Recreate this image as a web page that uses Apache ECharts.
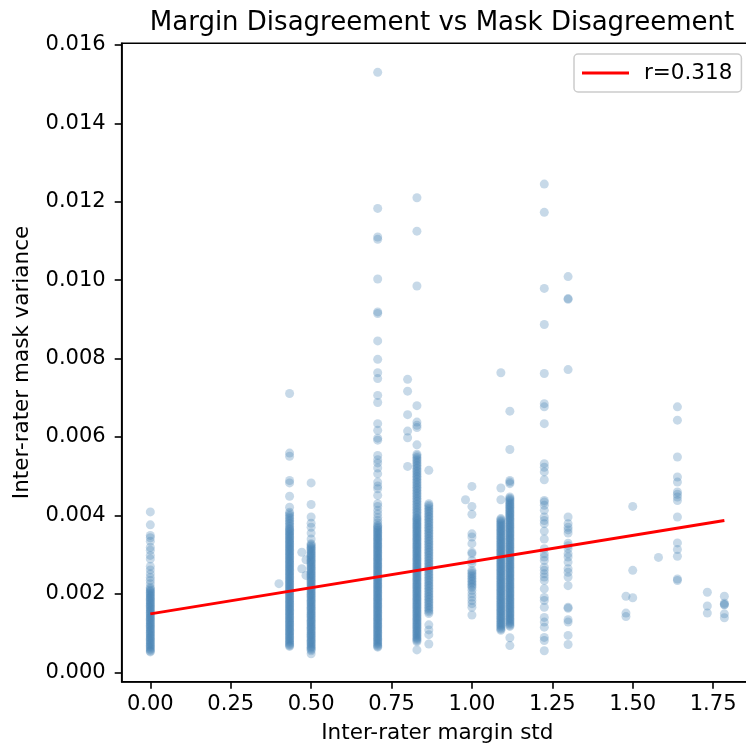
<!DOCTYPE html>
<html>
<head>
<meta charset="utf-8">
<script src="https://cdn.jsdelivr.net/npm/echarts@6/dist/echarts.min.js"></script>
<style>
  html, body { margin: 0; padding: 0; background: #fff; }
  #chart { width: 746px; height: 748px; }
</style>
</head>
<body>
<div id="chart"></div>
<script>
// x positions of the point columns (inter-rater margin std)
var colX = [0, 0.40, 0.433, 0.471, 0.484, 0.5, 0.707, 0.80, 0.829, 0.866, 0.98, 1.0,
            1.09, 1.118, 1.225, 1.299, 1.479, 1.5, 1.58, 1.639, 1.732, 1.785];

// mask variance values for each column
var y000 = [0.00409, 0.00376, 0.00349, 0.00343, 0.00334, 0.00319, 0.00311, 0.00298, 0.00289, 0.00270,
            0.00261, 0.00251, 0.00242, 0.00234, 0.00226, 0.00217,
            0.00213, 0.00210, 0.00207, 0.00204, 0.00201, 0.00198, 0.00195, 0.00192, 0.00189, 0.00186,
            0.00183, 0.00180, 0.00177, 0.00174, 0.00171, 0.00168, 0.00165, 0.00162, 0.00159, 0.00156,
            0.00153, 0.00150, 0.00147, 0.00144, 0.00141, 0.00138, 0.00135, 0.00132, 0.00129, 0.00126,
            0.00123, 0.00120, 0.00117, 0.00114, 0.00111, 0.00108, 0.00105, 0.00102, 0.00099, 0.00096,
            0.00093, 0.00090, 0.00087, 0.00084, 0.00081, 0.00078, 0.00075, 0.00072, 0.00069, 0.00066,
            0.00063, 0.00060, 0.00057, 0.00054, 0.00052];
var y040 = [0.00226];
var y043 = [0.00711, 0.00559, 0.00551, 0.00489, 0.00483, 0.00449, 0.00421,
            0.00408, 0.00404, 0.00400, 0.00396, 0.00392, 0.00388, 0.00384, 0.00380, 0.00376, 0.00372,
            0.00368, 0.00365, 0.00362, 0.00359, 0.00356, 0.00353, 0.00350, 0.00347, 0.00344, 0.00341,
            0.00338, 0.00335, 0.00332, 0.00329, 0.00326, 0.00323, 0.00320, 0.00317, 0.00314, 0.00311,
            0.00308, 0.00305, 0.00302, 0.00299, 0.00296, 0.00293, 0.00290, 0.00287, 0.00284, 0.00281,
            0.00278, 0.00275, 0.00272, 0.00269, 0.00266, 0.00263, 0.00260, 0.00257, 0.00254, 0.00251,
            0.00248, 0.00245, 0.00242, 0.00239, 0.00236, 0.00233, 0.00230, 0.00227, 0.00224, 0.00221,
            0.00218, 0.00215, 0.00212, 0.00209, 0.00206, 0.00203, 0.00200, 0.00197, 0.00194, 0.00191,
            0.00188, 0.00185, 0.00182, 0.00179, 0.00176, 0.00173, 0.00170, 0.00167, 0.00164, 0.00161,
            0.00158, 0.00155, 0.00152, 0.00149, 0.00146, 0.00143, 0.00140, 0.00137, 0.00134, 0.00131,
            0.00128, 0.00125, 0.00122, 0.00119, 0.00116, 0.00113, 0.00110, 0.00107, 0.00104, 0.00101,
            0.00098, 0.00095, 0.00092, 0.00089, 0.00086, 0.00083, 0.00080, 0.00077, 0.00074, 0.00071,
            0.00068, 0.00066];
var y047 = [0.00306, 0.00264];
var y048 = [0.00287, 0.00247];
var y050 = [0.00483, 0.00428, 0.00396, 0.00380, 0.00370, 0.00355, 0.00340,
            0.00328, 0.00325, 0.00322, 0.00319, 0.00316, 0.00313, 0.00310, 0.00307, 0.00304, 0.00301,
            0.00298, 0.00295, 0.00292, 0.00289, 0.00286, 0.00283, 0.00280, 0.00277, 0.00274, 0.00271,
            0.00268, 0.00265, 0.00262, 0.00259, 0.00256, 0.00253, 0.00250, 0.00247, 0.00244, 0.00241,
            0.00238, 0.00235, 0.00232, 0.00229, 0.00226, 0.00223, 0.00220, 0.00217, 0.00214, 0.00211,
            0.00208, 0.00205, 0.00202, 0.00199, 0.00196, 0.00193, 0.00190, 0.00187, 0.00184, 0.00181,
            0.00178, 0.00175, 0.00172, 0.00169, 0.00166, 0.00163, 0.00160, 0.00157, 0.00154, 0.00151,
            0.00148, 0.00145, 0.00142, 0.00139, 0.00136, 0.00133, 0.00130, 0.00127, 0.00124, 0.00121,
            0.00118, 0.00115, 0.00112, 0.00109, 0.00106, 0.00103, 0.00100, 0.00097, 0.00094, 0.00091,
            0.00088, 0.00085, 0.00082, 0.00079, 0.00076, 0.00073, 0.00070, 0.00067, 0.00064, 0.00061,
            0.00058, 0.00055, 0.00047];
var y071 = [0.01530, 0.01183, 0.01110, 0.01104, 0.01003, 0.00919, 0.00915, 0.00845, 0.00798, 0.00764,
            0.00749, 0.00706, 0.00688, 0.00634, 0.00617, 0.00597, 0.00592, 0.00553, 0.00542, 0.00534,
            0.00521, 0.00506, 0.00485, 0.00475, 0.00468, 0.00451, 0.00430, 0.00423, 0.00413, 0.00404,
            0.00395, 0.00387, 0.00381,
            0.00375, 0.00372, 0.00369, 0.00366, 0.00363, 0.00360, 0.00357, 0.00354, 0.00351, 0.00348,
            0.00345, 0.00342, 0.00339, 0.00336, 0.00333, 0.00330, 0.00327, 0.00324, 0.00321, 0.00318,
            0.00315, 0.00312, 0.00309, 0.00306, 0.00303, 0.00300, 0.00297, 0.00294, 0.00291, 0.00288,
            0.00285, 0.00282, 0.00279, 0.00276, 0.00273, 0.00270, 0.00267, 0.00264, 0.00261, 0.00258,
            0.00255, 0.00252, 0.00249, 0.00246, 0.00243, 0.00240, 0.00237, 0.00234, 0.00231, 0.00228,
            0.00225, 0.00222, 0.00219, 0.00216, 0.00213, 0.00210, 0.00207, 0.00204, 0.00201, 0.00198,
            0.00195, 0.00192, 0.00189, 0.00186, 0.00183, 0.00180, 0.00177, 0.00174, 0.00171, 0.00168,
            0.00165, 0.00162, 0.00159, 0.00156, 0.00153, 0.00150, 0.00147, 0.00144, 0.00141, 0.00138,
            0.00135, 0.00132, 0.00129, 0.00126, 0.00123, 0.00120, 0.00117, 0.00114, 0.00111, 0.00108,
            0.00105, 0.00102, 0.00099, 0.00096, 0.00093, 0.00090, 0.00087, 0.00084, 0.00081, 0.00078,
            0.00075, 0.00072, 0.00069, 0.00066, 0.00064];
var y080 = [0.00747, 0.00717, 0.00657, 0.00615, 0.00598, 0.00525];
var y083 = [0.01210, 0.01125, 0.00985, 0.00680, 0.00638, 0.00630, 0.00624, 0.00580,
            0.00556, 0.00552, 0.00548, 0.00544, 0.00540, 0.00536, 0.00532, 0.00528, 0.00524, 0.00520,
            0.00516, 0.00512, 0.00508, 0.00504, 0.00500, 0.00496, 0.00492, 0.00488, 0.00484, 0.00480,
            0.00476, 0.00472, 0.00468, 0.00464, 0.00460, 0.00456, 0.00452, 0.00448, 0.00444, 0.00440,
            0.00436, 0.00432, 0.00428, 0.00424, 0.00420, 0.00416, 0.00412, 0.00408, 0.00404, 0.00400,
            0.00396, 0.00393, 0.00390, 0.00387, 0.00384, 0.00381, 0.00378, 0.00375, 0.00372, 0.00369,
            0.00366, 0.00363, 0.00360, 0.00357, 0.00354, 0.00351, 0.00348, 0.00345, 0.00342, 0.00339,
            0.00336, 0.00333, 0.00330, 0.00327, 0.00324, 0.00321, 0.00318, 0.00315, 0.00312, 0.00309,
            0.00306, 0.00303, 0.00300, 0.00297, 0.00294, 0.00291, 0.00288, 0.00285, 0.00282, 0.00279,
            0.00276, 0.00273, 0.00270, 0.00267, 0.00264, 0.00261, 0.00258, 0.00255, 0.00252, 0.00249,
            0.00246, 0.00243, 0.00240, 0.00237, 0.00234, 0.00231, 0.00228, 0.00225, 0.00222, 0.00219,
            0.00216, 0.00213, 0.00210, 0.00207, 0.00204, 0.00201, 0.00198, 0.00195, 0.00192, 0.00189,
            0.00186, 0.00183, 0.00180, 0.00177, 0.00174, 0.00171, 0.00168, 0.00165, 0.00162, 0.00159,
            0.00156, 0.00153, 0.00150, 0.00147, 0.00144, 0.00141, 0.00138, 0.00135, 0.00132, 0.00129,
            0.00126, 0.00123, 0.00120, 0.00117, 0.00114, 0.00111, 0.00108, 0.00105, 0.00102, 0.00099,
            0.00096, 0.00093, 0.00090, 0.00087, 0.00084, 0.00081, 0.00078, 0.00057];
var y087 = [0.00515,
            0.00430, 0.00426, 0.00422, 0.00418, 0.00414, 0.00410, 0.00406, 0.00402, 0.00398, 0.00394,
            0.00390, 0.00386, 0.00382, 0.00378, 0.00374, 0.00370, 0.00366, 0.00362, 0.00358, 0.00354,
            0.00350, 0.00346, 0.00342, 0.00338, 0.00334, 0.00330, 0.00326, 0.00322, 0.00318, 0.00314,
            0.00310, 0.00306, 0.00302, 0.00298, 0.00294, 0.00290, 0.00286, 0.00282, 0.00278, 0.00274,
            0.00270, 0.00266, 0.00262, 0.00258, 0.00254, 0.00250, 0.00246, 0.00242, 0.00238, 0.00234,
            0.00230, 0.00226, 0.00222, 0.00218, 0.00214, 0.00210, 0.00206, 0.00202, 0.00198, 0.00194,
            0.00190, 0.00186, 0.00182, 0.00178, 0.00174, 0.00170, 0.00166, 0.00162, 0.00158, 0.00154,
            0.00150, 0.00121, 0.00108, 0.00096, 0.00072];
var y098 = [0.00440];
var y100 = [0.00474, 0.00423, 0.00403, 0.00353, 0.00345, 0.00328, 0.00306, 0.00302, 0.00285, 0.00277,
            0.00260, 0.00256, 0.00252, 0.00248, 0.00244, 0.00240, 0.00236, 0.00232, 0.00228, 0.00224,
            0.00220, 0.00216, 0.00209, 0.00200, 0.00192, 0.00183, 0.00175, 0.00166, 0.00146];
var y109 = [0.00764, 0.00470, 0.00440,
            0.00392, 0.00389, 0.00386, 0.00383, 0.00380, 0.00377, 0.00374, 0.00371, 0.00368, 0.00365,
            0.00362, 0.00359, 0.00356, 0.00353, 0.00350, 0.00347, 0.00344, 0.00341, 0.00338, 0.00335,
            0.00332, 0.00329, 0.00326, 0.00323, 0.00320, 0.00317, 0.00314, 0.00311, 0.00308, 0.00305,
            0.00302, 0.00299, 0.00296, 0.00293, 0.00290, 0.00287, 0.00284, 0.00281, 0.00278, 0.00275,
            0.00272, 0.00269, 0.00266, 0.00263, 0.00260, 0.00257, 0.00254, 0.00251, 0.00248, 0.00245,
            0.00242, 0.00239, 0.00236, 0.00233, 0.00230, 0.00227, 0.00224, 0.00221, 0.00218, 0.00215,
            0.00212, 0.00209, 0.00206, 0.00203, 0.00200, 0.00197, 0.00194, 0.00191, 0.00188, 0.00185,
            0.00182, 0.00179, 0.00176, 0.00173, 0.00170, 0.00167, 0.00164, 0.00161, 0.00158, 0.00155,
            0.00152, 0.00149, 0.00146, 0.00143, 0.00140, 0.00137, 0.00134, 0.00131, 0.00128, 0.00125,
            0.00122, 0.00119, 0.00116, 0.00113, 0.00110, 0.00107];
var y112 = [0.00666, 0.00568, 0.00489, 0.00485, 0.00481,
            0.00447, 0.00444, 0.00441, 0.00438, 0.00435, 0.00432, 0.00429, 0.00426, 0.00423, 0.00420,
            0.00417, 0.00414, 0.00411, 0.00408, 0.00405, 0.00402, 0.00399, 0.00396, 0.00393, 0.00390,
            0.00387, 0.00384, 0.00381, 0.00378, 0.00375, 0.00372, 0.00369, 0.00366, 0.00363, 0.00360,
            0.00357, 0.00354, 0.00351, 0.00348, 0.00345, 0.00342, 0.00339, 0.00336, 0.00333, 0.00330,
            0.00327, 0.00324, 0.00321, 0.00318, 0.00315, 0.00312, 0.00309, 0.00306, 0.00303, 0.00300,
            0.00297, 0.00294, 0.00291, 0.00288, 0.00285, 0.00282, 0.00279, 0.00276, 0.00273, 0.00270,
            0.00267, 0.00264, 0.00261, 0.00258, 0.00255, 0.00252, 0.00249, 0.00246, 0.00243, 0.00240,
            0.00237, 0.00234, 0.00231, 0.00228, 0.00225, 0.00222, 0.00219, 0.00216, 0.00213, 0.00210,
            0.00207, 0.00204, 0.00201, 0.00198, 0.00195, 0.00192, 0.00189, 0.00186, 0.00183, 0.00180,
            0.00177, 0.00174, 0.00171, 0.00168, 0.00165, 0.00162, 0.00159, 0.00156, 0.00153, 0.00150,
            0.00147, 0.00144, 0.00141, 0.00138, 0.00135, 0.00132, 0.00129, 0.00126, 0.00123, 0.00120,
            0.00117, 0.00088, 0.00068];
var y122 = [0.01245, 0.01173, 0.00979, 0.00887, 0.00762, 0.00685, 0.00677, 0.00634, 0.00532, 0.00523,
            0.00511, 0.00491, 0.00438, 0.00434, 0.00426, 0.00413, 0.00396, 0.00387, 0.00379, 0.00360,
            0.00340, 0.00315, 0.00302, 0.00294, 0.00285, 0.00268, 0.00260, 0.00251, 0.00243, 0.00234,
            0.00213, 0.00191, 0.00183, 0.00166, 0.00140, 0.00128, 0.00115, 0.00089, 0.00081, 0.00055];
var y130 = [0.01009, 0.00953, 0.00951, 0.00772, 0.00396, 0.00379, 0.00370, 0.00363, 0.00355, 0.00329,
            0.00323, 0.00315, 0.00302, 0.00294, 0.00281, 0.00264, 0.00255, 0.00243, 0.00221, 0.00166,
            0.00163, 0.00134, 0.00128, 0.00094, 0.00071];
var y148 = [0.00194, 0.00151, 0.00142];
var y150 = [0.00423, 0.00260, 0.00190];
var y158 = [0.00293];
var y164 = [0.00677, 0.00643, 0.00549, 0.00498, 0.00485, 0.00460, 0.00454, 0.00447, 0.00438, 0.00396,
            0.00330, 0.00313, 0.00296, 0.00238, 0.00234];
var y173 = [0.00204, 0.00169, 0.00151];
var y179 = [0.00194, 0.00176, 0.00173, 0.00172, 0.00149, 0.00139];

var colY = [y000, y040, y043, y047, y048, y050, y071, y080, y083, y087, y098, y100,
            y109, y112, y122, y130, y148, y150, y158, y164, y173, y179];

// regression line end points
var fitX = [0, 1.785];
var fitY = [0.00149, 0.00387];

var xTicks = [0, 0.25, 0.5, 0.75, 1.0, 1.25, 1.5, 1.75];
var yTicks = [0, 0.002, 0.004, 0.006, 0.008, 0.010, 0.012, 0.014, 0.016];

var points = [];
colX.forEach(function (x, i) {
    colY[i].forEach(function (y) { points.push([x, y]); });
});

var font = 'DejaVu Sans';
var chart = echarts.init(document.getElementById('chart'));
chart.setOption({
    animation: false,
    textStyle: {fontFamily: font, color: '#000'},
    title: {
        text: 'Margin Disagreement vs Mask Disagreement',
        left: 437,
        textAlign: 'center',
        top: 5,
        textStyle: {fontFamily: font, fontSize: 26, fontWeight: 'normal', color: '#000'}
    },
    legend: {
        data: ['r=0.318'],
        left: 574,
        top: 54,
        padding: [8, 9, 8, 8],
        icon: 'rect',
        itemWidth: 47,
        itemHeight: 3,
        borderColor: '#cccccc',
        borderWidth: 1.5,
        borderRadius: 4,
        backgroundColor: 'rgba(255,255,255,0.8)',
        textStyle: {fontFamily: font, fontSize: 21.5, color: '#000', padding: [0, 0, 0, 10]}
    },
    grid: {
        left: 121.7,
        top: 43.3,
        right: -7,
        bottom: 66.3,
        show: true,
        borderColor: '#000',
        borderWidth: 1.6,
        outerBoundsMode: 'none'
    },
    xAxis: {
        type: 'value',
        min: -0.089,
        max: 1.874,
        name: 'Inter-rater margin std',
        nameLocation: 'middle',
        nameGap: 41,
        nameTextStyle: {fontFamily: font, fontSize: 21.5, color: '#000'},
        splitLine: {show: false},
        axisLine: {onZero: false, lineStyle: {color: '#000', width: 1.6}},
        axisTick: {customValues: xTicks, length: 7, lineStyle: {color: '#000', width: 1.6}},
        axisLabel: {
            customValues: xTicks,
            margin: 12,
            fontSize: 21,
            color: '#000',
            fontFamily: font,
            formatter: function (v) { return v.toFixed(2); }
        }
    },
    yAxis: {
        type: 'value',
        min: -0.00024,
        max: 0.01604,
        name: 'Inter-rater mask variance',
        nameLocation: 'middle',
        nameGap: 88,
        nameTextStyle: {fontFamily: font, fontSize: 21.5, color: '#000'},
        splitLine: {show: false},
        axisLine: {show: true, onZero: false, lineStyle: {color: '#000', width: 1.6}},
        axisTick: {show: true, customValues: yTicks, length: 7, lineStyle: {color: '#000', width: 1.6}},
        axisLabel: {
            customValues: yTicks,
            margin: 16,
            fontSize: 21,
            color: '#000',
            fontFamily: font,
            formatter: function (v) { return v.toFixed(3); }
        }
    },
    series: [
        {
            type: 'scatter',
            data: points,
            symbolSize: 9,
            itemStyle: {color: '#4682B4', opacity: 0.3},
            z: 2
        },
        {
            name: 'r=0.318',
            type: 'line',
            data: [[fitX[0], fitY[0]], [fitX[1], fitY[1]]],
            showSymbol: false,
            symbol: 'none',
            lineStyle: {color: '#ff0000', width: 3},
            itemStyle: {color: '#ff0000'},
            z: 3
        }
    ]
});
</script>
</body>
</html>
